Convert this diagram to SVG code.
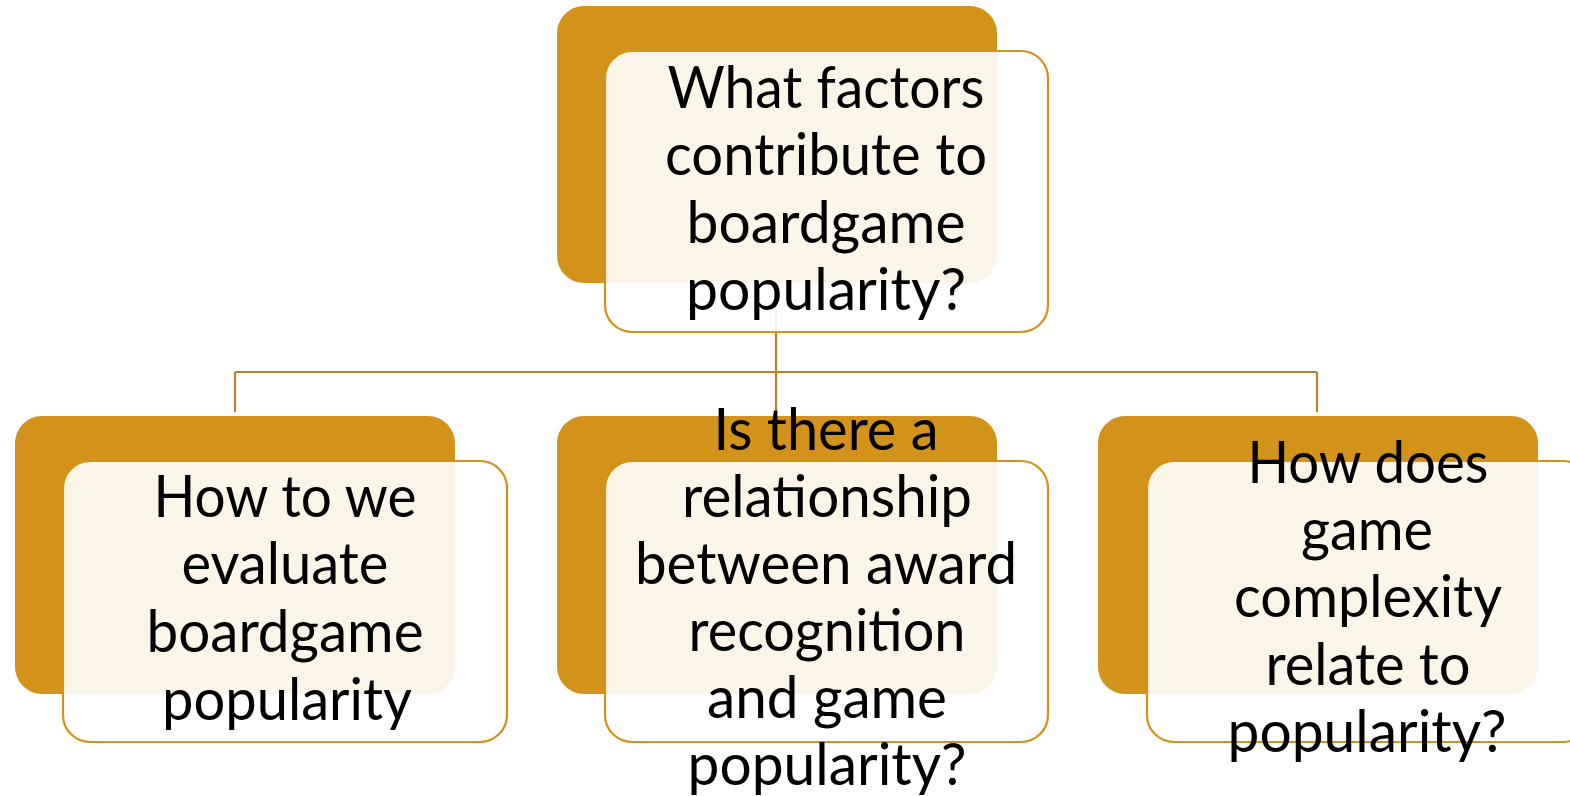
<svg xmlns="http://www.w3.org/2000/svg" width="1570" height="796" viewBox="0 0 1570 796">
<style>
.back{fill:#D3921A;}
.front{fill:#FFFFFF;fill-opacity:0.9;stroke:#D3921A;stroke-width:2.2;}
.conn{fill:none;stroke:#B8842A;stroke-width:2.2;}
text{font-family:Lato,"Open Sans",sans-serif;font-size:58px;fill:#000000;text-anchor:middle;}
</style>
<rect width="1570" height="796" fill="#FFFFFF"/>
<g id="connectors">
<path class="conn" d="M776,300 V372 M235,372 H1317 M235,372 V412 M776,372 V412 M1317,372 V412"/>
</g>
<g id="node-top">
<rect class="back" x="557" y="6" width="440" height="277" rx="27"/>
<rect class="front" x="605" y="51" width="443" height="281" rx="27"/>
<text x="826" y="108" textLength="317" lengthAdjust="spacingAndGlyphs">What factors</text>
<text x="826" y="175" textLength="322" lengthAdjust="spacingAndGlyphs">contribute to</text>
<text x="826" y="243" textLength="279" lengthAdjust="spacingAndGlyphs">boardgame</text>
<text x="826" y="310" textLength="280" lengthAdjust="spacingAndGlyphs">popularity?</text>
</g>
<g id="node-left">
<rect class="back" x="15" y="416" width="440" height="278" rx="27"/>
<rect class="front" x="63" y="461" width="444" height="281" rx="27"/>
<text x="285" y="517" textLength="263" lengthAdjust="spacingAndGlyphs">How to we</text>
<text x="285" y="584" textLength="207" lengthAdjust="spacingAndGlyphs">evaluate</text>
<text x="285" y="652" textLength="277" lengthAdjust="spacingAndGlyphs">boardgame</text>
<text x="287" y="720" textLength="250" lengthAdjust="spacingAndGlyphs">popularity</text>
</g>
<g id="node-middle">
<rect class="back" x="557" y="416" width="440" height="278" rx="27"/>
<rect class="front" x="605" y="461" width="443" height="281" rx="27"/>
<text x="826" y="450" textLength="225" lengthAdjust="spacingAndGlyphs">Is there a</text>
<text x="827" y="517" textLength="290" lengthAdjust="spacingAndGlyphs">relationship</text>
<text x="826" y="584" textLength="382" lengthAdjust="spacingAndGlyphs">between award</text>
<text x="827" y="651" textLength="277" lengthAdjust="spacingAndGlyphs">recognition</text>
<text x="827" y="718" textLength="240" lengthAdjust="spacingAndGlyphs">and game</text>
<text x="827" y="785" textLength="279" lengthAdjust="spacingAndGlyphs">popularity?</text>
</g>
<g id="node-right">
<rect class="back" x="1098" y="416" width="440" height="278" rx="27"/>
<rect class="front" x="1147" y="461" width="443" height="281" rx="27"/>
<text x="1368" y="483" textLength="241" lengthAdjust="spacingAndGlyphs">How does</text>
<text x="1367" y="550" textLength="132" lengthAdjust="spacingAndGlyphs">game</text>
<text x="1368" y="617" textLength="268" lengthAdjust="spacingAndGlyphs">complexity</text>
<text x="1368" y="685" textLength="205" lengthAdjust="spacingAndGlyphs">relate to</text>
<text x="1367" y="752" textLength="279" lengthAdjust="spacingAndGlyphs">popularity?</text>
</g>
</svg>
